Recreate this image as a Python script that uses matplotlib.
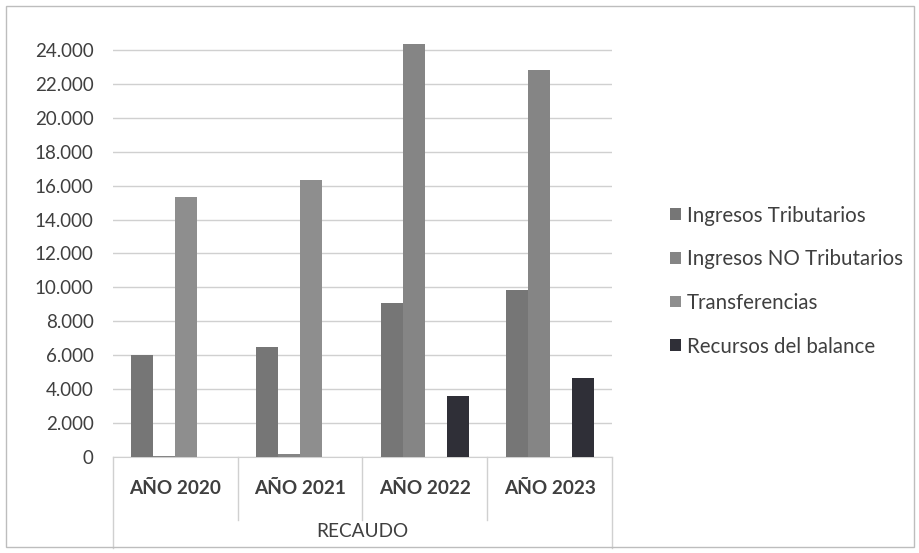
import numpy as np
import matplotlib.pyplot as plt
from matplotlib.patches import Rectangle

plt.rcParams['font.family'] = ['Lato', 'DejaVu Sans']

anios = ['AÑO 2020', 'AÑO 2021', 'AÑO 2022', 'AÑO 2023']
series = ['Ingresos Tributarios', 'Ingresos NO Tributarios', 'Transferencias', 'Recursos del balance']
tributarios = [6000, 6500, 9080, 9860]
no_tributarios = [40, 200, 24360, 22830]
transferencias = [15300, 16350, 0, 0]
recursos = [0, 0, 3580, 4660]
yticks = np.arange(0, 24001, 2000)

valores = [tributarios, no_tributarios, transferencias, recursos]
colores = ['#767676', '#858585', '#8e8e8e', '#2f2f37']
texto = '#3f3f3f'

fig = plt.figure(figsize=(9.2, 5.53), dpi=100)
ax = fig.add_axes([0.1228, 0.1736, 0.5424, 0.7484])

x = np.arange(len(anios))
ancho = 0.176
for i, (vals, nombre, c) in enumerate(zip(valores, series, colores)):
    ax.bar(x + (i - 1.5) * ancho, vals, ancho, color=c, label=nombre, zorder=3)

ax.set_xlim(-0.5, 3.5)
ax.set_ylim(0, 24400)
ax.set_yticks(yticks)
ax.set_yticklabels([f'{v:,}'.replace(',', '.') for v in yticks], fontsize=13.5, color=texto)
ax.yaxis.grid(True, color='#d0d0d0', linewidth=1)
ax.tick_params(axis='y', length=0, pad=14)
ax.set_xticks([])
for s in ['top', 'right', 'left']:
    ax.spines[s].set_visible(False)
ax.spines['bottom'].set_color('#d0d0d0')

# eje de categorias en dos niveles
for k in range(len(anios) + 1):
    fondo = -0.22 if k in (0, len(anios)) else -0.152
    ax.plot([k - 0.5, k - 0.5], [0, fondo], transform=ax.get_xaxis_transform(),
            color='#d0d0d0', linewidth=1, clip_on=False)
for k, a in enumerate(anios):
    ax.text(k, -0.075, a, transform=ax.get_xaxis_transform(), ha='center', va='center',
            fontsize=13.7, fontweight='bold', color=texto)
ax.text(1.5, -0.18, 'RECAUDO', transform=ax.get_xaxis_transform(), ha='center', va='center',
        fontsize=13.7, color=texto)

leg = ax.legend(loc='center left', bbox_to_anchor=(1.08, 0.425), frameon=False, fontsize=14.8,
                handlelength=0.5, handleheight=0.5, handletextpad=0.3, labelspacing=1.15)
for t in leg.get_texts():
    t.set_color(texto)

fig.patches.append(Rectangle((0.006, 0.01), 0.988, 0.98, transform=fig.transFigure,
                             fill=False, edgecolor='#bdbdbd', linewidth=1))

fig.savefig('out.png', dpi=100)
